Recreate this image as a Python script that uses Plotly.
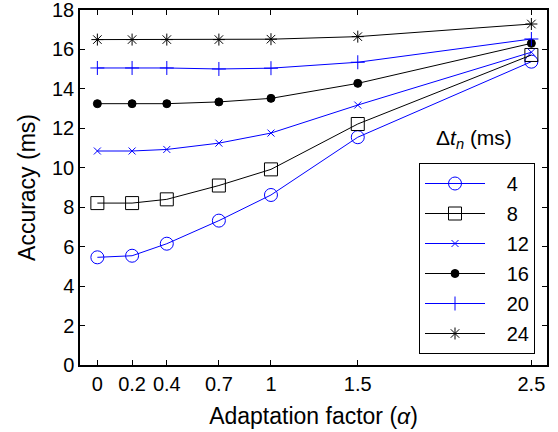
import plotly.graph_objects as go

alpha = [0, 0.2, 0.4, 0.7, 1, 1.5, 2.5]
x_tick_labels = ["0", "0.2", "0.4", "0.7", "1", "1.5", "2.5"]
series_names = ["4", "8", "12", "16", "20", "24"]
acc_4 = [5.46, 5.54, 6.15, 7.32, 8.62, 11.55, 15.38]
acc_8 = [8.21, 8.21, 8.40, 9.10, 9.92, 12.22, 15.72]
acc_12 = [10.85, 10.85, 10.93, 11.25, 11.76, 13.18, 15.86]
acc_16 = [13.25, 13.25, 13.25, 13.34, 13.52, 14.28, 16.31]
acc_20 = [15.06, 15.06, 15.06, 15.01, 15.05, 15.35, 16.53]
acc_24 = [16.50, 16.50, 16.50, 16.50, 16.52, 16.65, 17.29]
all_series = [acc_4, acc_8, acc_12, acc_16, acc_20, acc_24]

BLUE = "#0000ff"
BLACK = "#000000"
styles = [
    dict(color=BLUE, symbol="circle-open", size=13),
    dict(color=BLACK, symbol="square-open", size=13),
    dict(color=BLUE, symbol="x-thin-open", size=7),
    dict(color=BLACK, symbol="circle", size=8),
    dict(color=BLUE, symbol="cross-thin-open", size=10),
    dict(color=BLACK, symbol="asterisk-open", size=10),
]

PAD = "\u00a0\u00a0\u00a0"  # visual gap between legend glyph and label
fig = go.Figure()
for name, vals, st in zip(series_names, all_series, styles):
    fig.add_trace(go.Scatter(
        x=alpha, y=vals, name=PAD + name, mode="lines+markers",
        legendgroup=name,
        line=dict(color=st["color"], width=1),
        marker=dict(symbol=st["symbol"], size=st["size"], color=st["color"],
                    line=dict(color=st["color"], width=1)),
    ))

L, R, T, B = 80, 11, 10, 67
W, H = 558, 432
PW, PH = W - L - R, H - T - B

font_family = "Liberation Sans, Arial, sans-serif"
fig.update_layout(
    width=W, height=H,
    margin=dict(l=L, r=R, t=T, b=B, autoexpand=False),
    plot_bgcolor="white", paper_bgcolor="white",
    font=dict(family=font_family, size=20, color="black"),
    showlegend=True,
    legend=dict(
        x=(419 - L) / PW, y=(H - B - 163) / PH, xanchor="left", yanchor="top",
        bgcolor="white", bordercolor="black", borderwidth=1,
        font=dict(size=20), tracegroupgap=1, itemwidth=60,
    ),
    xaxis=dict(
        range=[-0.1, 2.59], tickmode="array", tickvals=alpha, ticktext=x_tick_labels,
        ticks="inside", ticklen=5, tickcolor="black", showline=True, linecolor="black",
        linewidth=1.5, mirror="ticks", showgrid=False, zeroline=False, automargin=False,
        ticklabeloverflow="allow",
        title=dict(text="Adaptation factor (<i>α</i>)", standoff=14, font=dict(size=23)),
    ),
    yaxis=dict(
        range=[0, 18], dtick=2, ticks="inside", ticklen=5, tickcolor="black",
        showline=True, linecolor="black", linewidth=1.5, mirror="ticks",
        showgrid=False, zeroline=False, automargin=False,
        ticklabeloverflow="allow",
        title=dict(text="Accuracy (ms)", standoff=10, font=dict(size=23)),
    ),
    annotations=[dict(
        text="Δ<i>t</i><sub><i>n</i></sub> (ms)",
        x=(474 - L) / PW, y=(H - B - 139) / PH,
        xref="paper", yref="paper", xanchor="center", yanchor="middle",
        showarrow=False, font=dict(size=21),
    )],
)
fig.write_html("out.html",
               config={"displayModeBar": False},
               post_script="document.body.style.margin='0';document.body.style.overflow='hidden';")
